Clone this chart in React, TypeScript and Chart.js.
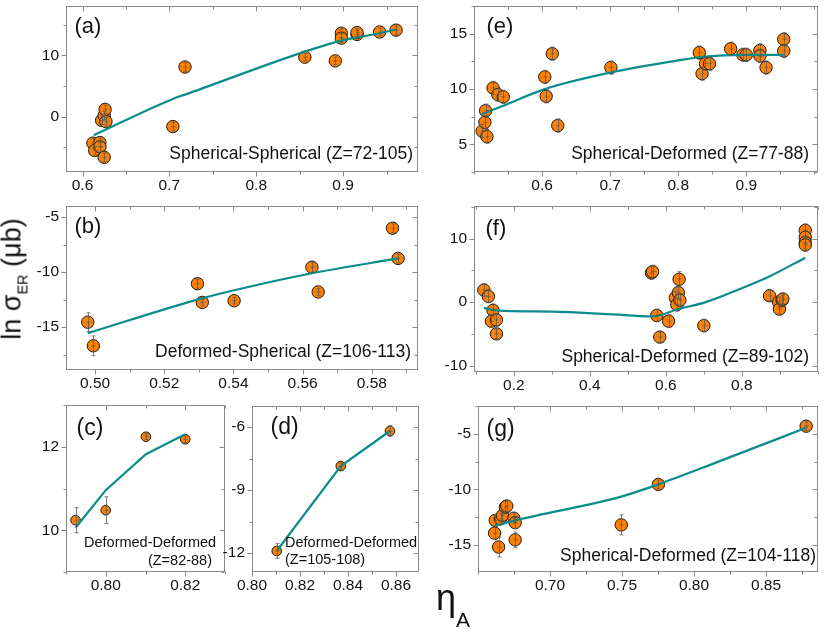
import React, { useEffect, useRef } from 'react';
import { Chart, registerables } from 'chart.js';
Chart.register(...registerables);

// ---------- data ----------
// (a) Spherical-Spherical (Z=72-105)
const aX = [0.612, 0.614, 0.620, 0.620, 0.625, 0.622, 0.625, 0.626, 0.627, 0.704, 0.718, 0.856, 0.891, 0.898, 0.898, 0.916, 0.916, 0.942, 0.961];
const aY = [-4.3, -5.5, -4.2, -4.9, -6.6, -0.6, 0.2, 1.2, -0.8, -1.6, 8.1, 9.7, 9.1, 13.6, 12.8, 13.4, 13.7, 13.8, 14.1];
const aErr = [0.7, 0.7, 0.7, 0.7, 0.7, 0.7, 0.7, 0.7, 0.7, 0.7, 0.7, 0.6, 0.6, 0.7, 0.7, 0.6, 0.6, 0.6, 0.7];
const aFitX = [0.613, 0.704, 0.718, 0.856, 0.898, 0.916, 0.942, 0.961];
const aFitY = [-3.0, 2.9, 3.6, 10.6, 12.4, 12.9, 13.6, 14.2];

// (e) Spherical-Deformed (Z=77-88)
const eX = [0.512, 0.516, 0.517, 0.519, 0.528, 0.535, 0.543, 0.604, 0.606, 0.615, 0.623, 0.701, 0.831, 0.835, 0.840, 0.846, 0.877, 0.895, 0.900, 0.920, 0.920, 0.929, 0.955, 0.955];
const eY = [6.2, 7.0, 8.05, 5.7, 10.1, 9.5, 9.3, 11.1, 9.35, 13.2, 6.7, 11.95, 13.3, 11.4, 12.3, 12.3, 13.65, 13.1, 13.1, 13.5, 13.0, 11.95, 14.5, 13.45];
const eErr = [0.6, 0.6, 0.6, 0.6, 0.6, 0.6, 0.6, 0.6, 0.6, 0.6, 0.6, 0.6, 0.6, 0.6, 0.6, 0.6, 0.6, 0.6, 0.6, 0.6, 0.6, 0.6, 0.6, 0.6];
const eFitX = [0.512, 0.543, 0.604, 0.701, 0.800, 0.840, 0.895, 0.955];
const eFitY = [7.75, 8.5, 10.0, 11.5, 12.6, 12.95, 13.1, 13.1];

// (b) Deformed-Spherical (Z=106-113)
const bX = [0.4979, 0.4995, 0.5296, 0.5310, 0.5402, 0.5627, 0.5645, 0.5860, 0.5876];
const bY = [-14.55, -16.7, -11.05, -12.75, -12.6, -9.55, -11.8, -6.0, -8.75];
const bErr = [0.85, 0.9, 0.4, 0.3, 0.3, 0.45, 0.3, 0.4, 0.4];
const bFitX = [0.4979, 0.5296, 0.5402, 0.5627, 0.5876];
const bFitY = [-15.55, -12.5, -11.65, -10.1, -8.75];

// (f) Spherical-Deformed (Z=89-102)
const fX = [0.121, 0.133, 0.145, 0.141, 0.154, 0.154, 0.562, 0.565, 0.576, 0.584, 0.607, 0.625, 0.629, 0.633, 0.635, 0.637, 0.700, 0.873, 0.897, 0.899, 0.906, 0.908, 0.967, 0.967, 0.967, 0.967];
const fY = [1.9, 0.9, -1.3, -3.0, -2.8, -5.0, 4.6, 4.8, -2.1, -5.5, -3.0, 0.7, -0.4, 1.5, 3.6, 0.3, -3.7, 1.0, 0.0, -1.1, 0.3, 0.5, 11.3, 10.2, 9.4, 9.0];
const fErr = [1.0, 1.0, 1.0, 1.0, 1.0, 0.8, 1.0, 1.0, 1.0, 0.8, 1.0, 1.0, 1.0, 1.0, 1.2, 1.0, 1.0, 0.8, 0.8, 0.8, 0.8, 0.8, 1.0, 1.0, 1.0, 1.0];
const fFitX = [0.121, 0.154, 0.300, 0.450, 0.565, 0.635, 0.705, 0.800, 0.871, 0.967];
const fFitY = [-0.9, -1.3, -1.5, -1.9, -2.25, -1.05, 0.0, 2.2, 4.0, 7.0];

// (c) Deformed-Deformed (Z=82-88)
const cX = [0.7924, 0.8000, 0.8101, 0.8200];
const cY = [10.24, 10.48, 12.24, 12.18];
const cErr = [0.3, 0.32, 0.07, 0.08];
const cFitX = [0.7924, 0.8000, 0.8101, 0.8200];
const cFitY = [10.06, 10.96, 11.82, 12.3];

// (d) Deformed-Deformed (Z=105-108)
const dX = [0.8103, 0.8370, 0.8575];
const dY = [-11.9, -7.86, -6.19];
const dErr = [0.35, 0.15, 0.25];
const dFitX = [0.8103, 0.8370, 0.8575];
const dFitY = [-11.9, -7.86, -6.19];

// (g) Spherical-Deformed (Z=104-118)
const gX = [0.6615, 0.6620, 0.6643, 0.6657, 0.6670, 0.6690, 0.6700, 0.6749, 0.6758, 0.6758, 0.7495, 0.7753, 0.8779];
const gY = [-13.95, -12.8, -15.2, -12.65, -12.35, -11.6, -11.5, -12.6, -13.0, -14.55, -13.2, -9.55, -4.3];
const gErr = [0.6, 0.5, 0.9, 0.5, 0.5, 0.5, 0.5, 0.5, 0.5, 0.7, 0.9, 0.4, 0.4];
const gFitX = [0.6615, 0.6758, 0.7495, 0.7753, 0.8170, 0.8779];
const gFitY = [-13.3, -12.8, -10.65, -9.55, -7.5, -4.45];

// tick values
const aXTicks = [0.6, 0.7, 0.8, 0.9];
const aYTicks = [0, 10];
const eXTicks = [0.6, 0.7, 0.8, 0.9];
const eYTicks = [5, 10, 15];
const bXTicks = [0.50, 0.52, 0.54, 0.56, 0.58];
const bYTicks = [-15, -10, -5];
const fXTicks = [0.2, 0.4, 0.6, 0.8];
const fYTicks = [-10, 0, 10];
const cXTicks = [0.80, 0.82];
const cYTicks = [10, 12];
const dXTicks = [0.80, 0.82, 0.84, 0.86];
const dYTicks = [-12, -9, -6];
const gXTicks = [0.70, 0.75, 0.80, 0.85];
const gYTicks = [-15, -10, -5];

// ---------- style ----------
const FONT = "'Liberation Sans', Arial, Helvetica, sans-serif";
const ORANGE = '#FF8000';
const TEAL = '#0A8C8C';
const FRAME = '#8a8a8a';
const PL = 50, PT = 6, PR = 6, PB = 28;

type PanelCfg = {
  L: number; T: number; R: number; B: number;
  xMin: number; xMax: number; xTicks: number[]; xMinor: number; xDec: number;
  yMin: number; yMax: number; yTicks: number[]; yMinor: number;
  px: number[]; py: number[]; pe: number[]; fx: number[]; fy: number[];
  r: number; smooth: boolean;
};

const panels: PanelCfg[] = [
  { L: 66, T: 5, R: 419, B: 172, xMin: 0.581, xMax: 0.986, xTicks: aXTicks, xMinor: 0.05, xDec: 1, yMin: -9, yMax: 18, yTicks: aYTicks, yMinor: 5, px: aX, py: aY, pe: aErr, fx: aFitX, fy: aFitY, r: 6.2, smooth: true },
  { L: 474, T: 5, R: 819, B: 172, xMin: 0.5, xMax: 1.005, xTicks: eXTicks, xMinor: 0.05, xDec: 1, yMin: 2.5, yMax: 17.5, yTicks: eYTicks, yMinor: 2.5, px: eX, py: eY, pe: eErr, fx: eFitX, fy: eFitY, r: 6.2, smooth: true },
  { L: 66, T: 205, R: 419, B: 370, xMin: 0.4916, xMax: 0.5933, xTicks: bXTicks, xMinor: 0.01, xDec: 2, yMin: -18.9, yMax: -4.0, yTicks: bYTicks, yMinor: 2.5, px: bX, py: bY, pe: bErr, fx: bFitX, fy: bFitY, r: 6.2, smooth: true },
  { L: 474, T: 205, R: 819, B: 372, xMin: 0.095, xMax: 1.0, xTicks: fXTicks, xMinor: 0.1, xDec: 1, yMin: -11, yMax: 15.1, yTicks: fYTicks, yMinor: 5, px: fX, py: fY, pe: fErr, fx: fFitX, fy: fFitY, r: 6.2, smooth: true },
  { L: 66, T: 405, R: 225, B: 572, xMin: 0.79, xMax: 0.83, xTicks: cXTicks, xMinor: 0.01, xDec: 2, yMin: 9, yMax: 13, yTicks: cYTicks, yMinor: 1, px: cX, py: cY, pe: cErr, fx: cFitX, fy: cFitY, r: 4.8, smooth: false },
  { L: 252, T: 406, R: 419, B: 572, xMin: 0.80, xMax: 0.8696, xTicks: dXTicks, xMinor: 0.01, xDec: 2, yMin: -12.9, yMax: -5.0, yTicks: dYTicks, yMinor: 1.5, px: dX, py: dY, pe: dErr, fx: dFitX, fy: dFitY, r: 4.8, smooth: false },
  { L: 478, T: 405, R: 819, B: 572, xMin: 0.650, xMax: 0.886, xTicks: gXTicks, xMinor: 0.025, xDec: 2, yMin: -17.45, yMax: -2.5, yTicks: gYTicks, yMinor: 2.5, px: gX, py: gY, pe: gErr, fx: gFitX, fy: gFitY, r: 6.2, smooth: true },
];

function minorValues(min: number, max: number, step: number, majors: number[]) {
  const out: number[] = [];
  const start = Math.ceil(min / step - 1e-9);
  for (let k = start; k * step <= max + 1e-9; k++) {
    const v = k * step;
    if (majors.some((m) => Math.abs(m - v) < step * 0.01)) continue;
    out.push(v);
  }
  return out;
}

function makeFramePlugin(cfg: PanelCfg) {
  return {
    id: 'frameTicks',
    beforeDatasetsDraw(chart: any) {
      const { ctx, chartArea, scales } = chart;
      const { left, right, top, bottom } = chartArea;
      const xs = scales.x, ys = scales.y;
      const l = Math.round(left) + 0.5, r = Math.round(right) - 0.5;
      const t = Math.round(top) + 0.5, b = Math.round(bottom) - 0.5;
      ctx.save();
      ctx.strokeStyle = FRAME;
      ctx.lineWidth = 1;
      ctx.strokeRect(l, t, r - l, b - t);
      const drawX = (v: number, len: number) => {
        const p = Math.round(xs.getPixelForValue(v)) + 0.5;
        ctx.beginPath();
        ctx.moveTo(p, b); ctx.lineTo(p, b + len);
        ctx.moveTo(p, t); ctx.lineTo(p, t + len);
        ctx.stroke();
      };
      const drawY = (v: number, len: number) => {
        const p = Math.round(ys.getPixelForValue(v)) + 0.5;
        ctx.beginPath();
        ctx.moveTo(l, p); ctx.lineTo(l - len, p);
        ctx.moveTo(r, p); ctx.lineTo(r - len, p);
        ctx.stroke();
      };
      cfg.xTicks.forEach((v) => drawX(v, 5));
      minorValues(cfg.xMin, cfg.xMax, cfg.xMinor, cfg.xTicks).forEach((v) => drawX(v, 3));
      cfg.yTicks.forEach((v) => drawY(v, 5));
      minorValues(cfg.yMin, cfg.yMax, cfg.yMinor, cfg.yTicks).forEach((v) => drawY(v, 3));
      ctx.restore();
    },
    afterDatasetsDraw(chart: any) {
      const { ctx, scales } = chart;
      const xs = scales.x, ys = scales.y;
      ctx.save();
      ctx.strokeStyle = '#5a5a5a';
      ctx.lineWidth = 0.8;
      cfg.px.forEach((xv, i) => {
        const x = Math.round(xs.getPixelForValue(xv)) + 0.5;
        const y1 = ys.getPixelForValue(cfg.py[i] - cfg.pe[i]);
        const y2 = ys.getPixelForValue(cfg.py[i] + cfg.pe[i]);
        const yc = ys.getPixelForValue(cfg.py[i]);
        ctx.beginPath();
        ctx.moveTo(x, y1); ctx.lineTo(x, y2);
        ctx.moveTo(x - 2, y1); ctx.lineTo(x + 2, y1);
        ctx.moveTo(x - 2, y2); ctx.lineTo(x + 2, y2);
        ctx.moveTo(x - 2, yc); ctx.lineTo(x + 2, yc);
        ctx.stroke();
      });
      ctx.restore();
    },
  };
}

function PanelChart({ cfg }: { cfg: PanelCfg }) {
  const ref = useRef<HTMLCanvasElement>(null);
  const w = cfg.R - cfg.L + PL + PR;
  const h = cfg.B - cfg.T + PT + PB;
  useEffect(() => {
    if (!ref.current) return;
    const tickFont = { family: FONT, size: 15.5 };
    const chart = new Chart(ref.current, {
      type: 'scatter',
      data: {
        datasets: [
          {
            type: 'line',
            data: cfg.fx.map((x, i) => ({ x, y: cfg.fy[i] })),
            borderColor: TEAL,
            borderWidth: 2.2,
            pointRadius: 0,
            fill: false,
            tension: 0,
            cubicInterpolationMode: cfg.smooth ? 'monotone' : 'default',
            order: 0,
            clip: false,
          } as any,
          {
            type: 'scatter',
            data: cfg.px.map((x, i) => ({ x, y: cfg.py[i] })),
            backgroundColor: ORANGE,
            borderColor: '#1a1a1a',
            borderWidth: 1,
            pointRadius: cfg.r,
            pointHoverRadius: cfg.r,
            showLine: false,
            order: 1,
            clip: false,
          } as any,
        ],
      },
      options: {
        responsive: false,
        animation: false,
        devicePixelRatio: 1,
        events: [],
        layout: { padding: { top: PT, right: PR, left: 0, bottom: 0 } },
        plugins: { legend: { display: false }, tooltip: { enabled: false } },
        scales: {
          x: {
            type: 'linear',
            min: cfg.xMin,
            max: cfg.xMax,
            grid: { display: false, drawTicks: false },
            border: { display: false },
            ticks: {
              padding: 4,
              font: tickFont,
              color: '#111',
              autoSkip: false,
              maxRotation: 0,
              callback: (v: any) => Number(v).toFixed(cfg.xDec),
            },
            afterBuildTicks: (s: any) => { s.ticks = cfg.xTicks.map((v) => ({ value: v })); },
            afterFit: (s: any) => { s.height = PB; s.paddingLeft = 0; s.paddingRight = 0; },
          } as any,
          y: {
            type: 'linear',
            min: cfg.yMin,
            max: cfg.yMax,
            grid: { display: false, drawTicks: false },
            border: { display: false },
            ticks: {
              padding: 7,
              font: tickFont,
              color: '#111',
              autoSkip: false,
              callback: (v: any) => String(Math.round(Number(v))),
            },
            afterBuildTicks: (s: any) => { s.ticks = cfg.yTicks.map((v) => ({ value: v })); },
            afterFit: (s: any) => { s.width = PL; s.paddingTop = 0; s.paddingBottom = 0; },
          } as any,
        },
      },
      plugins: [makeFramePlugin(cfg)],
    });
    return () => chart.destroy();
  }, [cfg]);
  return (
    <canvas
      ref={ref}
      width={w}
      height={h}
      style={{ position: 'absolute', left: cfg.L - PL, top: cfg.T - PT, width: w, height: h }}
    />
  );
}

function Txt({ x, y, size, align = 'left', children }: { x: number; y: number; size: number; align?: 'left' | 'right'; children: any }) {
  const style: any = {
    position: 'absolute',
    top: y - 0.4885 * size,
    fontSize: size,
    lineHeight: `${size}px`,
    fontFamily: FONT,
    color: '#111',
    whiteSpace: 'nowrap',
  };
  if (align === 'right') { style.right = 830 - x; style.textAlign = 'right'; } else { style.left = x; }
  return <div style={style}>{children}</div>;
}

export default function App() {
  return (
    <div style={{ position: 'absolute', left: 0, top: 0, width: 830, height: 633, background: '#fff', overflow: 'hidden', fontFamily: FONT }}>
      {panels.map((p, i) => <PanelChart key={i} cfg={p} />)}

      {/* panel labels */}
      <Txt x={74.5} y={25.3} size={22}>(a)</Txt>
      <Txt x={486.5} y={25.3} size={22}>(e)</Txt>
      <Txt x={74.5} y={226} size={22}>(b)</Txt>
      <Txt x={485.5} y={228} size={22}>(f)</Txt>
      <Txt x={76.5} y={427} size={23}>(c)</Txt>
      <Txt x={270.5} y={426} size={23}>(d)</Txt>
      <Txt x={486.5} y={428} size={23}>(g)</Txt>

      {/* annotations */}
      <Txt x={413} y={154} size={17.5} align="right">Spherical-Spherical (Z=72-105)</Txt>
      <Txt x={809} y={154} size={17.5} align="right">Spherical-Deformed (Z=77-88)</Txt>
      <Txt x={411} y={352} size={17.5} align="right">Deformed-Spherical (Z=106-113)</Txt>
      <Txt x={809} y={357} size={17.5} align="right">Spherical-Deformed (Z=89-102)</Txt>
      <Txt x={816} y={556} size={17.5} align="right">Spherical-Deformed (Z=104-118)</Txt>
      <Txt x={84} y={542.5} size={14.5}>Deformed-Deformed</Txt>
      <Txt x={212} y={560.3} size={14.5} align="right">(Z=82-88)</Txt>
      <Txt x={285} y={542.5} size={14.5}>Deformed-Deformed</Txt>
      <Txt x={285} y={558.6} size={14.5}>(Z=105-108)</Txt>

      {/* y axis title */}
      <div
        style={{
          position: 'absolute', left: 13.7, top: 279,
          transform: 'translate(-50%, -50%) rotate(-90deg)',
          whiteSpace: 'nowrap', fontSize: 27, lineHeight: '27px', fontFamily: FONT, color: '#111',
        }}
      >
        ln σ<span style={{ fontSize: 14.5, position: 'relative', top: 7 }}>ER</span> (μb)
      </div>

      {/* x axis title */}
      <div style={{ position: 'absolute', left: 436, top: 580, fontSize: 36, lineHeight: '36px', fontFamily: FONT, color: '#111', whiteSpace: 'nowrap' }}>
        η<span style={{ fontSize: 21, position: 'relative', top: 17 }}>A</span>
      </div>
    </div>
  );
}
